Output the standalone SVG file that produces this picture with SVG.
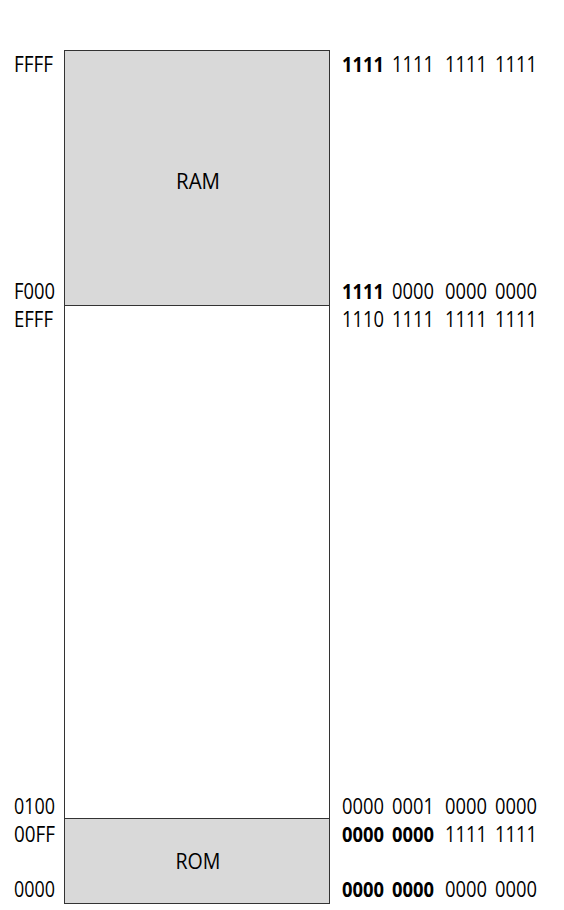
<svg xmlns="http://www.w3.org/2000/svg" width="564" height="910" viewBox="0 0 564 910">
<style>
text{font-family:"Open Sans","Noto Sans","Liberation Sans",sans-serif;font-size:21px;fill:#000}
.b{font-weight:bold}
.blk{stroke:#333333;stroke-width:1}
.g{fill:#d9d9d9}
.w{fill:#ffffff}
.c{text-anchor:middle}
</style>
<rect width="564" height="910" fill="#ffffff"/>
<g id="free">
<rect class="blk w" x="64.5" y="305.5" width="265" height="513"/>
</g>
<g id="ram">
<rect class="blk g" x="64.5" y="50.5" width="265" height="255"/>
<text class="c" x="198" y="189" textLength="44" lengthAdjust="spacingAndGlyphs">RAM</text>
</g>
<g id="rom">
<rect class="blk g" x="64.5" y="818.5" width="265" height="85"/>
<text class="c" x="198" y="869" textLength="45" lengthAdjust="spacingAndGlyphs">ROM</text>
</g>
<g id="hex-labels">
<text x="14" y="72" textLength="39" lengthAdjust="spacingAndGlyphs">FFFF</text>
<text x="14" y="299" textLength="41" lengthAdjust="spacingAndGlyphs">F000</text>
<text x="14" y="327" textLength="39" lengthAdjust="spacingAndGlyphs">EFFF</text>
<text x="14" y="814" textLength="41" lengthAdjust="spacingAndGlyphs">0100</text>
<text x="14" y="842" textLength="41" lengthAdjust="spacingAndGlyphs">00FF</text>
<text x="14" y="897" textLength="41" lengthAdjust="spacingAndGlyphs">0000</text>
</g>
<g id="bin-labels">
<text class="b" x="342" y="72" textLength="42" lengthAdjust="spacingAndGlyphs">1111</text>
<text x="392" y="72" textLength="42" lengthAdjust="spacingAndGlyphs">1111</text>
<text x="445" y="72" textLength="42" lengthAdjust="spacingAndGlyphs">1111</text>
<text x="495" y="72" textLength="42" lengthAdjust="spacingAndGlyphs">1111</text>

<text class="b" x="342" y="299" textLength="42" lengthAdjust="spacingAndGlyphs">1111</text>
<text x="392" y="299" textLength="42" lengthAdjust="spacingAndGlyphs">0000</text>
<text x="445" y="299" textLength="42" lengthAdjust="spacingAndGlyphs">0000</text>
<text x="495" y="299" textLength="42" lengthAdjust="spacingAndGlyphs">0000</text>

<text x="342" y="327" textLength="42" lengthAdjust="spacingAndGlyphs">1110</text>
<text x="392" y="327" textLength="42" lengthAdjust="spacingAndGlyphs">1111</text>
<text x="445" y="327" textLength="42" lengthAdjust="spacingAndGlyphs">1111</text>
<text x="495" y="327" textLength="42" lengthAdjust="spacingAndGlyphs">1111</text>

<text x="342" y="814" textLength="42" lengthAdjust="spacingAndGlyphs">0000</text>
<text x="392" y="814" textLength="42" lengthAdjust="spacingAndGlyphs">0001</text>
<text x="445" y="814" textLength="42" lengthAdjust="spacingAndGlyphs">0000</text>
<text x="495" y="814" textLength="42" lengthAdjust="spacingAndGlyphs">0000</text>

<text class="b" x="342" y="842" textLength="42" lengthAdjust="spacingAndGlyphs">0000</text>
<text class="b" x="392" y="842" textLength="42" lengthAdjust="spacingAndGlyphs">0000</text>
<text x="445" y="842" textLength="42" lengthAdjust="spacingAndGlyphs">1111</text>
<text x="495" y="842" textLength="42" lengthAdjust="spacingAndGlyphs">1111</text>

<text class="b" x="342" y="897" textLength="42" lengthAdjust="spacingAndGlyphs">0000</text>
<text class="b" x="392" y="897" textLength="42" lengthAdjust="spacingAndGlyphs">0000</text>
<text x="445" y="897" textLength="42" lengthAdjust="spacingAndGlyphs">0000</text>
<text x="495" y="897" textLength="42" lengthAdjust="spacingAndGlyphs">0000</text>
</g>
</svg>
